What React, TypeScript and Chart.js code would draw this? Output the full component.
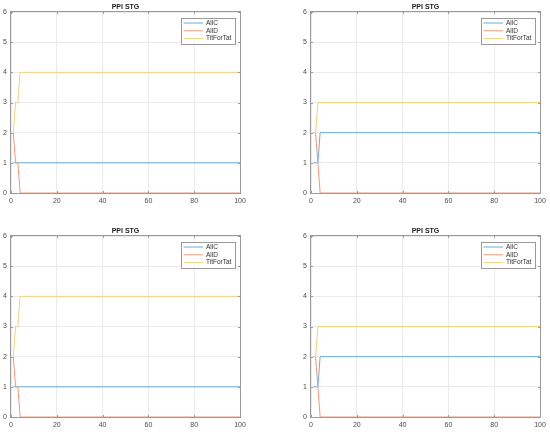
import React, { useEffect, useRef } from "react";
import { Chart, registerables } from "chart.js";

Chart.register(...registerables);

const TITLE = "PPI STG";
const SERIES_NAMES = ["AllC", "AllD", "TitForTat"];
const SERIES_COLORS = ["#6aaedb", "#ec9a78", "#f3d27c"];
const X_STEPS = [1, 2, 3, 4, 100];
const LEFT_ALLC = [1, 1, 1, 1, 1];
const LEFT_ALLD = [2, 1, 1, 0, 0];
const LEFT_TFT = [2, 3, 3, 4, 4];
const RIGHT_ALLC = [1, 1, 1, 2, 2];
const RIGHT_ALLD = [2, 2, 1, 0, 0];
const RIGHT_TFT = [2, 2, 3, 3, 3];
const X_MIN = 0;
const X_MAX = 100;
const X_STEP = 20;
const Y_MIN = 0;
const Y_MAX = 6;
const Y_STEP = 1;

const FONT = "'Liberation Sans', Arial, Helvetica, sans-serif";
const BORDER = "#9a9a9a";

type Panel = {
  left: number;
  top: number;
  pad: { left: number; right: number; top: number; bottom: number };
  series: number[][];
};

const PANELS: Panel[] = [
  { left: 0, top: 0, pad: { left: 0, right: 35, top: 12, bottom: 8 }, series: [LEFT_ALLC, LEFT_ALLD, LEFT_TFT] },
  { left: 275, top: 0, pad: { left: 25, right: 10, top: 12, bottom: 8 }, series: [RIGHT_ALLC, RIGHT_ALLD, RIGHT_TFT] },
  { left: 0, top: 216, pad: { left: 0, right: 35, top: 20, bottom: 0 }, series: [LEFT_ALLC, LEFT_ALLD, LEFT_TFT] },
  { left: 275, top: 216, pad: { left: 25, right: 10, top: 20, bottom: 0 }, series: [RIGHT_ALLC, RIGHT_ALLD, RIGHT_TFT] },
];

const decorPlugin = {
  id: "matlabDecor",
  afterDraw(chart: any) {
    const { ctx, chartArea } = chart;
    const { left, right, top, bottom } = chartArea;
    const xs = chart.scales.x;
    const ys = chart.scales.y;
    ctx.save();
    // inward ticks
    ctx.strokeStyle = BORDER;
    ctx.lineWidth = 1;
    ctx.beginPath();
    xs.ticks.forEach((t: any) => {
      const px = Math.round(xs.getPixelForValue(t.value)) + 0.5;
      ctx.moveTo(px, bottom);
      ctx.lineTo(px, bottom - 2);
      ctx.moveTo(px, top);
      ctx.lineTo(px, top + 2);
    });
    ys.ticks.forEach((t: any) => {
      const py = Math.round(ys.getPixelForValue(t.value)) + 0.5;
      ctx.moveTo(left, py);
      ctx.lineTo(left + 2, py);
      ctx.moveTo(right, py);
      ctx.lineTo(right - 2, py);
    });
    ctx.stroke();
    // box
    ctx.lineWidth = 1;
    ctx.strokeRect(left - 0.5, top - 0.5, right - left + 1, bottom - top + 1);
    // title
    ctx.fillStyle = "#222";
    ctx.font = `bold 7px ${FONT}`;
    ctx.textAlign = "center";
    ctx.textBaseline = "middle";
    ctx.fillText(TITLE, (left + right) / 2, top - 4.5);
    // legend
    const bw = 54;
    const bh = 26;
    const bx = right - 5 - bw;
    const by = top + 5.5;
    ctx.fillStyle = "#ffffff";
    ctx.fillRect(bx, by, bw, bh);
    ctx.strokeStyle = BORDER;
    ctx.strokeRect(Math.round(bx) + 0.5, Math.round(by) + 0.5, bw, bh);
    ctx.font = `6.5px ${FONT}`;
    ctx.textAlign = "left";
    ctx.textBaseline = "middle";
    chart.data.datasets.forEach((ds: any, i: number) => {
      const ry = by + 5.5 + i * 7.8;
      ctx.strokeStyle = ds.borderColor;
      ctx.lineWidth = 1;
      ctx.beginPath();
      ctx.moveTo(bx + 2.5, ry);
      ctx.lineTo(bx + 22, ry);
      ctx.stroke();
      ctx.fillStyle = "#333";
      ctx.fillText(ds.label, bx + 25, ry);
    });
    ctx.restore();
  },
};

function PanelChart({ panel }: { panel: Panel }) {
  const ref = useRef<HTMLCanvasElement | null>(null);
  useEffect(() => {
    if (!ref.current) return;
    const datasets = panel.series.map((vals, i) => ({
      label: SERIES_NAMES[i],
      data: X_STEPS.map((x, j) => ({ x, y: vals[j] })),
      borderColor: SERIES_COLORS[i],
      backgroundColor: SERIES_COLORS[i],
      borderWidth: 1,
      pointRadius: 0,
      tension: 0,
      fill: false,
      clip: 3,
      order: SERIES_NAMES.length - i,
    }));
    const chart = new Chart(ref.current, {
      type: "line",
      data: { datasets },
      options: {
        responsive: false,
        animation: false,
        devicePixelRatio: 1,
        layout: { padding: panel.pad },
        plugins: { legend: { display: false }, title: { display: false }, tooltip: { enabled: false } },
        scales: {
          x: {
            type: "linear",
            min: X_MIN,
            max: X_MAX,
            afterFit: (s: any) => { s.height = 15; },
            ticks: { stepSize: X_STEP, padding: 4, color: "#4a4a4a", font: { family: FONT, size: 7 }, maxRotation: 0 },
            grid: { color: "#ebebeb", drawTicks: false },
            border: { display: false },
          },
          y: {
            type: "linear",
            min: Y_MIN,
            max: Y_MAX,
            afterFit: (s: any) => { s.width = 11; },
            ticks: { stepSize: Y_STEP, padding: 4, color: "#4a4a4a", font: { family: FONT, size: 7 } },
            grid: { color: "#ebebeb", drawTicks: false },
            border: { display: false },
          },
        },
      } as any,
      plugins: [decorPlugin],
    });
    return () => chart.destroy();
  }, [panel]);
  return (
    <canvas
      ref={ref}
      width={275}
      height={216}
      style={{ position: "absolute", left: panel.left, top: panel.top, width: 275, height: 216 }}
    />
  );
}

export default function App() {
  return (
    <div style={{ position: "absolute", left: 0, top: 0, width: 550, height: 432, background: "#ffffff" }}>
      {PANELS.map((p, i) => (
        <PanelChart key={i} panel={p} />
      ))}
    </div>
  );
}
